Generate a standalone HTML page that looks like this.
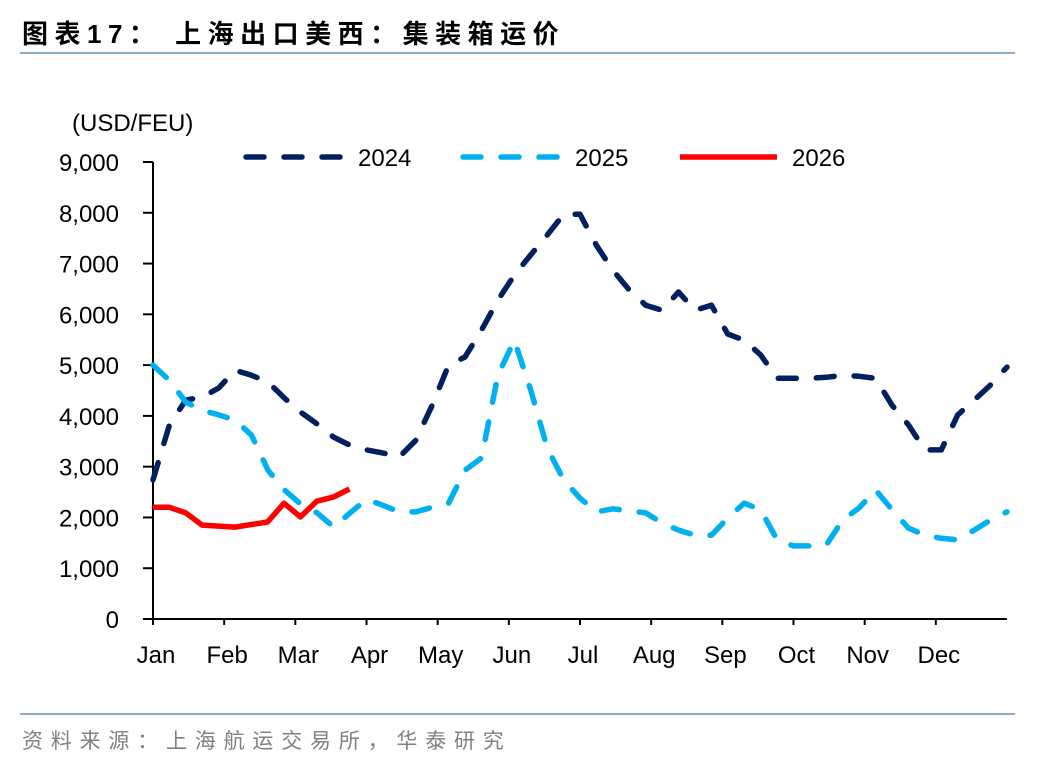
<!DOCTYPE html>
<html><head><meta charset="utf-8">
<style>
body{margin:0;background:#fff;width:1048px;height:764px;overflow:hidden;font-family:"Liberation Sans","Noto Sans CJK SC",sans-serif;}
svg text{font-family:"Liberation Sans","Noto Sans CJK SC",sans-serif;}
</style></head>
<body>
<svg id="chart" width="1048" height="764">
<text x="22" y="43" font-size="26" font-weight="bold" fill="#000" letter-spacing="6.5">图表17： 上海出口美西：集装箱运价</text>
<line x1="20" y1="53" x2="1015" y2="53" stroke="#8eaacb" stroke-width="2"/>
<line x1="20" y1="714" x2="1015" y2="714" stroke="#8eaacb" stroke-width="2"/>
<text x="22" y="748" font-size="21" fill="#808080" letter-spacing="7.8">资料来源：上海航运交易所，华泰研究</text>
<text x="72" y="131" font-size="24" fill="#000">(USD/FEU)</text>
<g id="axes"></g>
<g id="series"></g>
<g id="legend"></g>
</svg>
<script>
const yTicks=[0,1000,2000,3000,4000,5000,6000,7000,8000,9000];
const months=["Jan","Feb","Mar","Apr","May","Jun","Jul","Aug","Sep","Oct","Nov","Dec"];
const s2024=[2740,3820,4310,4370,4550,4900,4800,4670,4350,4070,3840,3580,3420,3330,3270,3190,3520,4210,5000,5160,5690,6280,6770,7170,7560,7970,7970,7360,6870,6480,6180,6080,6440,6080,6180,5610,5490,5200,4740,4740,4740,4760,4800,4780,4740,4210,3820,3330,3330,4020,4310,4610,4960];
const s2025=[5000,4700,4270,4110,4020,3920,3620,2930,2540,2260,2090,1810,2090,2360,2240,2110,2110,2200,2280,2930,3170,4800,5490,4510,3370,2740,2380,2110,2170,2130,2090,1890,1750,1650,1650,1990,2280,2150,1560,1440,1440,1460,1950,2190,2540,2150,1790,1650,1590,1560,1750,1950,2110];
const s2026Days=[0,7,14,21,35,49,56,63,70,77,84];
const s2026=[2200,2200,2090,1850,1810,1910,2280,2010,2320,2400,2560];
const seriesNames=["2024","2025","2026"];

const X0=153,X1=1007,Y0=619,Y1=162;
const ns="http://www.w3.org/2000/svg";
function y(v){return Y0-(v/9000)*(Y0-Y1);}
function xw(i){return X0+i*(X1-X0)/52;}
function xd(d){return X0+d/365*(X1-X0);}
function xm(i){return X0+i*(X1-X0)/12;}
function mk(tag,attrs,parent){const e=document.createElementNS(ns,tag);for(const k in attrs)e.setAttribute(k,attrs[k]);parent.appendChild(e);return e;}
const axes=document.getElementById('axes');
let a=mk('line',{x1:X0,y1:Y1,x2:X0,y2:Y0,stroke:'#000','stroke-width':2},axes);


a=mk('line',{x1:X0,y1:Y0,x2:X1,y2:Y0,stroke:'#000','stroke-width':2},axes);


yTicks.forEach(v=>{
 const t=mk('line',{x1:X0-10,y1:y(v),x2:X0,y2:y(v),stroke:'#000','stroke-width':2},axes);
 
 
 const l=mk('text',{x:119,y:y(v)+9,'font-size':24,'text-anchor':'end',fill:'#000'},axes);
 l.textContent=v.toLocaleString('en-US');
 
 
});
months.forEach((m,i)=>{
 const t=mk('line',{x1:xm(i),y1:Y0,x2:xm(i),y2:Y0+6,stroke:'#000','stroke-width':2},axes);
 
 
 const l=mk('text',{x:xm(i)+3,y:663,'font-size':24,'text-anchor':'middle',fill:'#000'},axes);
 l.textContent=m;
 
 
});
const ser=document.getElementById('series');
function line(pts,color,dash,name){
 const p=mk('polyline',{points:pts,fill:'none',stroke:color,'stroke-width':5.5,'stroke-linecap':dash?'round':'butt','stroke-linejoin':'round'},ser);
 if(dash)p.setAttribute('stroke-dasharray','18 20');
 
 
}
line(s2024.map((v,i)=>xw(i).toFixed(1)+','+y(v).toFixed(1)).join(' '),'#002060',true,'series-2024');
line(s2025.map((v,i)=>xw(i).toFixed(1)+','+y(v).toFixed(1)).join(' '),'#00b0f0',true,'series-2025');
line(s2026.map((v,i)=>xd(s2026Days[i]).toFixed(1)+','+y(v).toFixed(1)).join(' '),'#ff0000',false,'series-2026');
const lg=document.getElementById('legend');
const lgX=[243,460,677],cols=['#002060','#00b0f0','#ff0000'];
seriesNames.forEach((n,i)=>{
 const l=mk('line',{x1:lgX[i]+3,y1:157,x2:lgX[i]+100,y2:157,stroke:cols[i],'stroke-width':5.5,'stroke-linecap':i<2?'round':'butt'},lg);
 if(i<2)l.setAttribute('stroke-dasharray','18 20');
 
 
 const t=mk('text',{x:lgX[i]+115,y:166,'font-size':24,fill:'#000'},lg);
 t.textContent=n;
 
 
});
</script>
</body></html>
